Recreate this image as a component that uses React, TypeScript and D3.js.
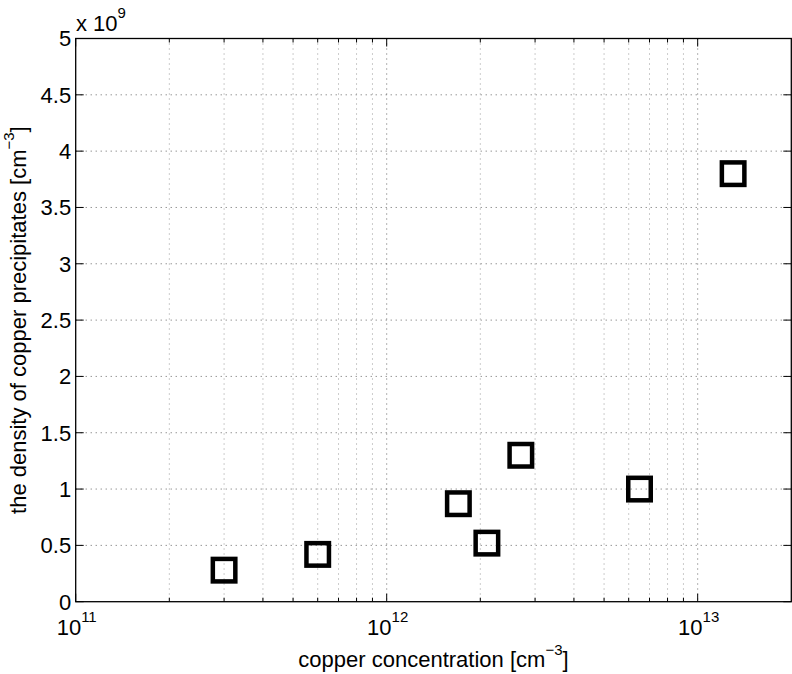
import React from "react";
import * as d3 from "d3";

const xValues = [3e11, 6e11, 1.7e12, 2.1e12, 2.7e12, 6.5e12, 1.3e13];
const yValues = [0.28, 0.42, 0.87, 0.52, 1.3, 1.0, 3.8];
const yTicks = [0, 0.5, 1, 1.5, 2, 2.5, 3, 3.5, 4, 4.5, 5];
const yTickLabels = ["0", "0.5", "1", "1.5", "2", "2.5", "3", "3.5", "4", "4.5", "5"];
const xMajorTicks = [1e11, 1e12, 1e13];
const xMajorExponents = ["11", "12", "13"];
const xDomain = [1e11, 2e13];
const yDomain = [0, 5];

const W = 792;
const H = 674;
const left = 75.7;
const right = 791.3;
const top = 38.5;
const bottom = 601.7;
const FONT = "'Liberation Sans', Arial, Helvetica, sans-serif";

export default function App() {
  const x = d3.scaleLog().domain(xDomain).range([left, right]);
  const y = d3.scaleLinear().domain(yDomain).range([bottom, top]);

  const minor: number[] = [];
  for (let e = 11; e <= 13; e++) {
    for (let m = 2; m <= 9; m++) {
      const v = m * Math.pow(10, e);
      if (v < xDomain[1]) minor.push(v);
    }
  }

  const side = 22.5;

  return (
    <svg width={W} height={H} style={{ position: "absolute", left: 0, top: 0, background: "#fff" }}>
      <rect x={0} y={0} width={W} height={H} fill="#fff" />
      {/* grid */}
      <g>
        {yTicks.slice(1, -1).map((t) => (
          <line key={"gy" + t} x1={left} x2={right} y1={y(t)} y2={y(t)} stroke="#666" strokeWidth={1} strokeDasharray="1,4" />
        ))}
        {minor.map((t) => (
          <line key={"gxm" + t} x1={x(t)} x2={x(t)} y1={top} y2={bottom} stroke="#999" strokeWidth={1} strokeDasharray="1,4" />
        ))}
        {xMajorTicks.slice(1).map((t) => (
          <line key={"gx" + t} x1={x(t)} x2={x(t)} y1={top} y2={bottom} stroke="#666" strokeWidth={1} strokeDasharray="1,4" />
        ))}
      </g>
      {/* ticks */}
      <g stroke="#000" strokeWidth={1}>
        {yTicks.map((t) => (
          <g key={"ty" + t}>
            <line x1={left} x2={left + 8} y1={y(t)} y2={y(t)} />
            <line x1={right} x2={right - 8} y1={y(t)} y2={y(t)} />
          </g>
        ))}
        {xMajorTicks.map((t) => (
          <g key={"tx" + t}>
            <line x1={x(t)} x2={x(t)} y1={bottom} y2={bottom - 8} />
            <line x1={x(t)} x2={x(t)} y1={top} y2={top + 8} />
          </g>
        ))}
        {minor.map((t) => (
          <g key={"txm" + t}>
            <line x1={x(t)} x2={x(t)} y1={bottom} y2={bottom - 4} />
            <line x1={x(t)} x2={x(t)} y1={top} y2={top + 4} />
          </g>
        ))}
      </g>
      {/* frame */}
      <rect x={left} y={top} width={right - left} height={bottom - top} fill="none" stroke="#000" strokeWidth={1.3} />
      {/* tick labels */}
      <g fontFamily={FONT} fontSize={22} fill="#000">
        {yTicks.map((t, i) => (
          <text key={"ly" + t} x={left - 4.5} y={y(t) + 7.9} textAnchor="end">
            {yTickLabels[i]}
          </text>
        ))}
        {xMajorTicks.map((t, i) => (
          <text key={"lx" + t} x={x(t) + 1} y={635} textAnchor="middle">
            <tspan>10</tspan>
            <tspan dy={-13} fontSize={15}>{xMajorExponents[i]}</tspan>
          </text>
        ))}
        <text x={76} y={31}>
          <tspan>x 10</tspan>
          <tspan dy={-13} fontSize={15}>9</tspan>
        </text>
      </g>
      {/* axis labels */}
      <g fontFamily={FONT} fontSize={22} fill="#000">
        <text x={(left + right) / 2} y={667} textAnchor="middle">
          <tspan>copper concentration [cm</tspan>
          <tspan dy={-12} fontSize={15}>−3</tspan>
          <tspan dy={12}>]</tspan>
        </text>
        <text transform={`translate(26, ${(top + bottom) / 2}) rotate(-90)`} textAnchor="middle">
          <tspan>the density of copper precipitates [cm</tspan>
          <tspan dy={-12} fontSize={15}>−3</tspan>
          <tspan dy={12}>]</tspan>
        </text>
      </g>
      {/* markers */}
      <g>
        {xValues.map((xv, i) => (
          <rect
            key={"m" + i}
            x={x(xv) - side / 2}
            y={y(yValues[i]) - side / 2}
            width={side}
            height={side}
            fill="none"
            stroke="#000"
            strokeWidth={4.5}
          />
        ))}
      </g>
    </svg>
  );
}
